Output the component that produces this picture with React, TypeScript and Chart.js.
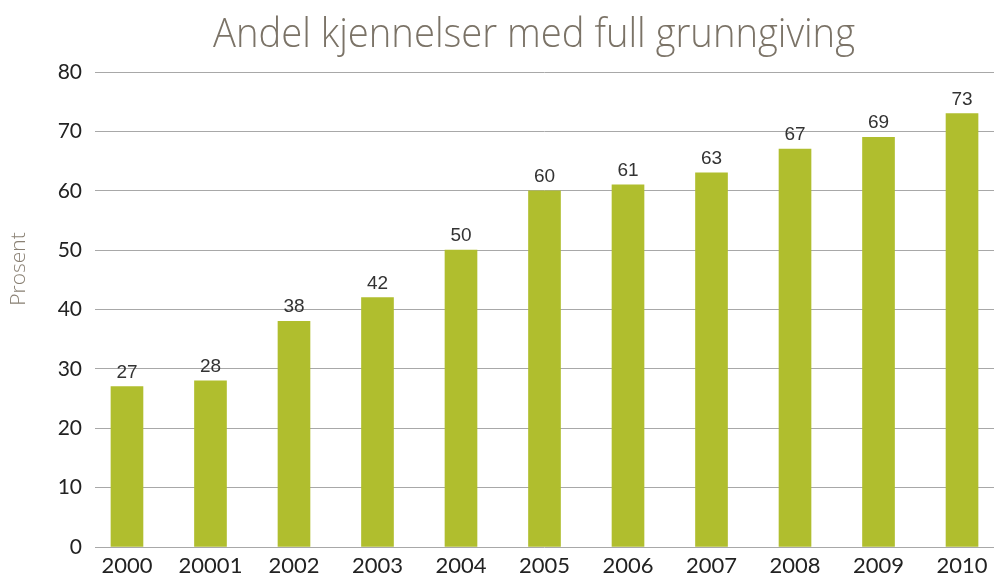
import React, { useEffect, useRef } from "react";
import { Chart, registerables } from "chart.js";

Chart.register(...registerables);

const years = ["2000", "20001", "2002", "2003", "2004", "2005", "2006", "2007", "2008", "2009", "2010"];
const values = [27, 28, 38, 42, 50, 60, 61, 63, 67, 69, 73];
const yMin = 0;
const yMax = 80;
const yStep = 10;
const chartTitle = "Andel kjennelser med full grunngiving";
const yTitle = "Prosent";

const overlayPlugin = {
  id: "overlay",
  afterDraw(chart: any) {
    const ctx = chart.ctx;
    ctx.save();
    // title
    ctx.font = "300 40px 'Open Sans'";
    ctx.fillStyle = "#7b7367";
    ctx.textAlign = "center";
    ctx.textBaseline = "alphabetic";
    const w = ctx.measureText(chartTitle).width;
    const target = 642;
    ctx.save();
    ctx.translate(534, 47);
    ctx.scale(target / w, 1);
    ctx.fillText(chartTitle, 0, 0);
    ctx.restore();

    // y title
    ctx.save();
    ctx.font = "300 21px 'Open Sans'";
    ctx.fillStyle = "#8a8174";
    ctx.translate(19, 269);
    ctx.rotate(-Math.PI / 2);
    ctx.textAlign = "center";
    ctx.textBaseline = "middle";
    ctx.fillText(yTitle, 0, 0);
    ctx.restore();

    // data labels
    const meta = chart.getDatasetMeta(0);
    ctx.font = "19px 'Liberation Sans Narrow', 'Liberation Sans', sans-serif";
    ctx.fillStyle = "#333333";
    ctx.textAlign = "center";
    ctx.textBaseline = "alphabetic";
    meta.data.forEach((bar: any, i: number) => {
      ctx.fillText(String(values[i]), bar.x, bar.y - 9);
    });
    ctx.restore();
  },
};

export default function App() {
  const ref = useRef<HTMLCanvasElement | null>(null);
  useEffect(() => {
    if (!ref.current) return;
    const chart = new Chart(ref.current, {
      type: "bar",
      data: {
        datasets: [
          {
            data: values.map((v, i) => ({ x: i, y: v })),
            backgroundColor: "#b0be2e",
            barThickness: 32,
          },
        ],
      },
      options: {
        animation: false,
        responsive: false,
        maintainAspectRatio: false,
        layout: { padding: { top: 72, left: 0, right: 0, bottom: 0 } },
        plugins: { legend: { display: false }, tooltip: { enabled: false }, title: { display: false } },
        scales: {
          x: {
            type: "linear",
            offset: false,
            min: -0.383,
            max: 10.383,
            afterBuildTicks: (s: any) => {
              s.ticks = years.map((_, i) => ({ value: i }));
            },
            afterFit: (s: any) => {
              s.height = 33;
            },
            ticks: {
              callback: (v: any) => years[v as number] ?? "",
              font: { family: "Lato", size: 22 },
              color: "#222222",
              padding: 6,
              autoSkip: false,
              maxRotation: 0,
            },
            grid: { display: false, drawTicks: false },
            border: { display: false },
          },
          y: {
            min: yMin,
            max: yMax,
            afterFit: (s: any) => {
              s.width = 95;
            },
            ticks: {
              stepSize: yStep,
              padding: 13,
              font: { family: "Lato", size: 21 },
              color: "#222222",
            },
            grid: { color: "#a8a8a8", drawTicks: false, lineWidth: 1 },
            border: { display: false },
          },
        },
      },
      plugins: [overlayPlugin],
    } as any);
    return () => chart.destroy();
  }, []);
  return (
    <div style={{ position: "absolute", left: 0, top: 0, width: 994, height: 580, background: "#fff" }}>
      <canvas ref={ref} width={994} height={580} style={{ display: "block" }} />
    </div>
  );
}
